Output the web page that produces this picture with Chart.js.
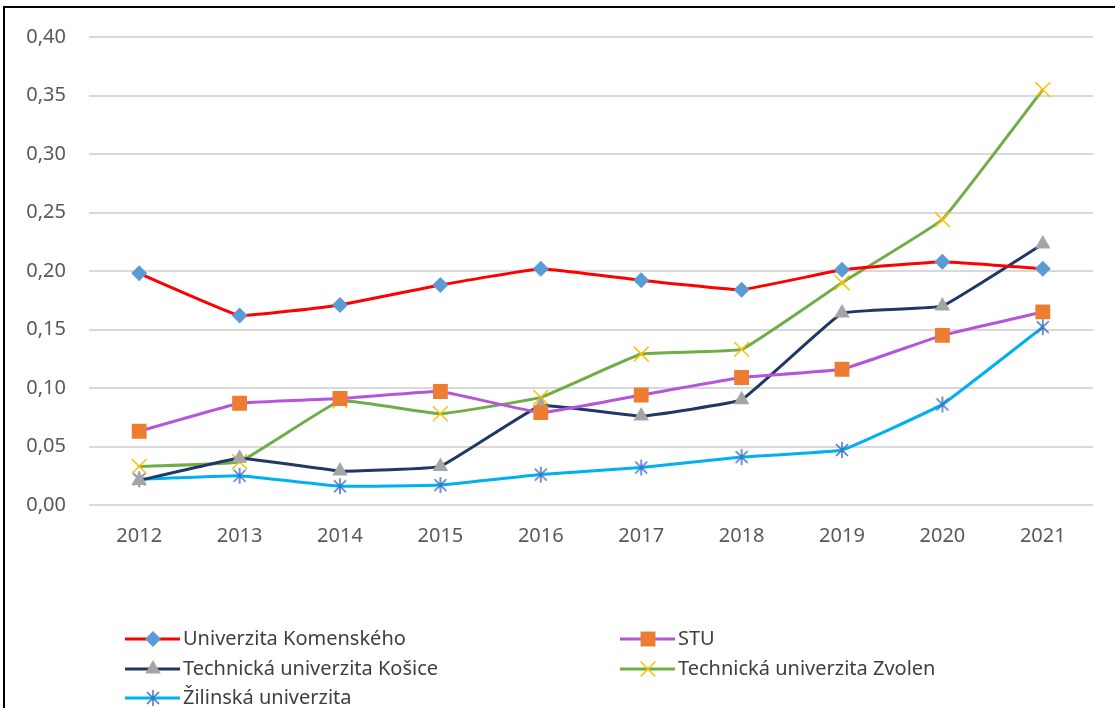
<!DOCTYPE html>
<html>
<head>
<meta charset="utf-8">
<script src="https://cdn.jsdelivr.net/npm/chart.js@4"></script>
<style>
  html, body { margin: 0; padding: 0; background: #fff; overflow: hidden; }
  #wrap { position: relative; width: 1115px; height: 708px; }
  #frame { position: absolute; left: 3px; top: 6px; width: 1200px; height: 800px; border-left: 2px solid #000; border-top: 2px solid #000; }
  canvas { position: absolute; left: 0; top: 0; }
</style>
</head>
<body>
<div id="wrap">
  <div id="frame"></div>
  <canvas id="chart" width="1115" height="708"></canvas>
</div>
<script>
const years = ['2012', '2013', '2014', '2015', '2016', '2017', '2018', '2019', '2020', '2021'];
const komenskeho = [0.198, 0.162, 0.171, 0.188, 0.202, 0.192, 0.184, 0.201, 0.208, 0.202];
const stu = [0.063, 0.087, 0.091, 0.097, 0.079, 0.094, 0.109, 0.116, 0.145, 0.165];
const kosice = [0.021, 0.040, 0.029, 0.033, 0.085, 0.076, 0.090, 0.164, 0.170, 0.223];
const zvolen = [0.033, 0.037, 0.089, 0.078, 0.092, 0.129, 0.133, 0.190, 0.244, 0.355];
const zilina = [0.022, 0.025, 0.016, 0.017, 0.026, 0.032, 0.041, 0.047, 0.086, 0.152];
const names = ['Univerzita Komenského', 'STU', 'Technická univerzita Košice', 'Technická univerzita Zvolen', 'Žilinská univerzita'];

const font = '"Noto Sans", "Open Sans", sans-serif';

// asterisk marker like the Excel "star"
function asterisk(color) {
  const c = document.createElement('canvas');
  c.width = 18; c.height = 18;
  const g = c.getContext('2d');
  g.strokeStyle = color; g.lineWidth = 1.5;
  g.beginPath();
  g.moveTo(3, 3); g.lineTo(15, 15);
  g.moveTo(15, 3); g.lineTo(3, 15);
  g.moveTo(9, 1); g.lineTo(9, 17);
  g.stroke();
  return c;
}

const series = [
  { data: komenskeho, line: '#ff0000', fill: '#5b9bd5', style: 'rectRot', r: 8 },
  { data: stu, line: '#b455dc', fill: '#ed7d31', style: 'rect', r: 10.5 },
  { data: kosice, line: '#1f3864', fill: '#a5a5a5', style: 'triangle', r: 9 },
  { data: zvolen, line: '#70ad47', fill: '#ffc000', style: 'crossRot', r: 10.5 },
  { data: zilina, line: '#00b0f0', fill: '#4472c4', style: asterisk('#4472c4'), r: 8 }
];

const datasets = series.map((s, i) => ({
  label: names[i],
  data: s.data,
  borderColor: s.line,
  borderWidth: 3,
  tension: 0.08,
  pointStyle: s.style,
  pointRadius: s.r,
  pointBackgroundColor: s.fill,
  pointBorderColor: s.fill,
  pointBorderWidth: (s.style === 'crossRot') ? 1.5 : 0,
  order: i
}));

function drawMarker(ctx, s, x, y) {
  const r = s.r;
  ctx.save();
  ctx.fillStyle = s.fill; ctx.strokeStyle = s.fill;
  ctx.beginPath();
  if (s.style === 'rectRot') {
    ctx.moveTo(x - r, y); ctx.lineTo(x, y - r); ctx.lineTo(x + r, y); ctx.lineTo(x, y + r); ctx.closePath(); ctx.fill();
  } else if (s.style === 'rect') {
    const h = r * Math.SQRT1_2;
    ctx.rect(x - h, y - h, 2 * h, 2 * h); ctx.fill();
  } else if (s.style === 'triangle') {
    ctx.moveTo(x, y - r); ctx.lineTo(x + r * 0.866, y + r * 0.5); ctx.lineTo(x - r * 0.866, y + r * 0.5); ctx.closePath(); ctx.fill();
  } else if (s.style === 'crossRot') {
    const h = r * Math.SQRT1_2;
    ctx.lineWidth = 1.5;
    ctx.moveTo(x - h, y - h); ctx.lineTo(x + h, y + h);
    ctx.moveTo(x + h, y - h); ctx.lineTo(x - h, y + h); ctx.stroke();
  } else {
    ctx.drawImage(s.style, x - 9, y - 9);
  }
  ctx.restore();
}

const legendPlugin = {
  id: 'twoColLegend',
  afterDraw(chart) {
    const ctx = chart.ctx;
    const cols = [125, 620];
    const rows = [639, 669, 698];
    ctx.save();
    ctx.font = '20px ' + font;
    ctx.textBaseline = 'middle';
    series.forEach((s, i) => {
      const x = cols[i % 2], y = rows[Math.floor(i / 2)];
      ctx.strokeStyle = s.line; ctx.lineWidth = 3;
      ctx.beginPath(); ctx.moveTo(x, y); ctx.lineTo(x + 55, y); ctx.stroke();
      drawMarker(ctx, s, x + 28, y);
      ctx.fillStyle = '#404040';
      ctx.fillText(names[i], x + 58, y);
    });
    ctx.restore();
  }
};

new Chart(document.getElementById('chart'), {
  type: 'line',
  data: { labels: years, datasets },
  options: {
    responsive: false,
    animation: false,
    layout: { padding: { left: 0, top: 37, right: 22, bottom: 143 } },
    plugins: { legend: { display: false }, tooltip: { enabled: false } },
    scales: {
      x: {
        offset: true,
        grid: { display: false, drawTicks: false },
        border: { display: false },
        ticks: { color: '#595959', font: { family: font, size: 20 }, padding: 19, maxRotation: 0 },
        afterFit(scale) { scale.height = 60; }
      },
      y: {
        min: 0, max: 0.4,
        grid: { color: '#d9d9d9', lineWidth: 2, drawTicks: false },
        border: { display: false },
        ticks: {
          stepSize: 0.05, padding: 23, color: '#595959', font: { family: font, size: 20 },
          callback: v => v.toFixed(2).replace('.', ',')
        },
        afterFit(scale) { scale.width = 89; }
      }
    }
  },
  plugins: [legendPlugin]
});
</script>
</body>
</html>
